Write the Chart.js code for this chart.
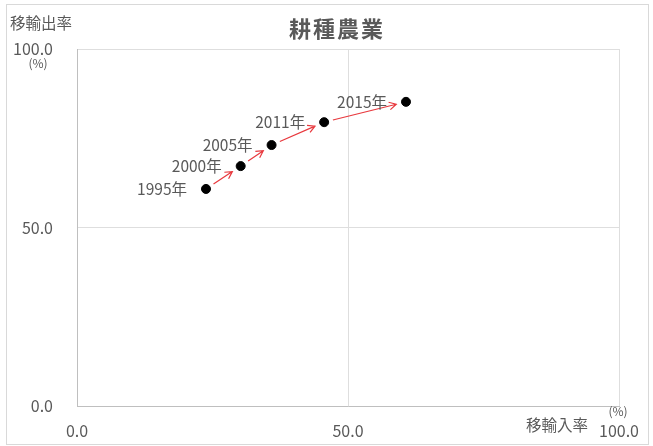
<!DOCTYPE html>
<html>
<head>
<meta charset="utf-8">
<script src="https://cdn.jsdelivr.net/npm/chart.js@4/dist/chart.umd.min.js"></script>
<style>
  html, body { margin: 0; padding: 0; background: #fff; }
  #wrap { width: 653px; height: 446px; position: relative; }
</style>
</head>
<body>
<div id="wrap"><canvas id="scatter"></canvas></div>
<script>
// 年ごとの移輸入率・移輸出率 (%)
var years = ['1995年', '2000年', '2005年', '2011年', '2015年'];
var importRate = [23.8, 30.2, 35.9, 45.6, 60.7];
var exportRate = [60.8, 67.2, 73.1, 79.5, 85.2];
var tickValues = [0, 50, 100];

var FONT = '"Noto Sans CJK JP", "Noto Sans", sans-serif';
var TEXT = '#595959';

var points = years.map(function (y, i) {
    return { x: importRate[i], y: exportRate[i] };
});

// 外枠・タイトル・軸タイトル・年ラベル・矢印
var decor = {
    id: 'decor',
    beforeDraw: function (chart) {
        var ctx = chart.ctx;
        ctx.save();
        ctx.strokeStyle = '#d9d9d9';
        ctx.lineWidth = 1;
        ctx.strokeRect(6.5, 4.5, 642, 440);
        ctx.restore();
    },
    afterDatasetsDraw: function (chart) {
        var ctx = chart.ctx;
        var meta = chart.getDatasetMeta(0);
        ctx.save();

        // arrows
        ctx.strokeStyle = '#e8383d';
        ctx.lineWidth = 1.2;
        for (var i = 0; i < meta.data.length - 1; i++) {
            var a = meta.data[i], b = meta.data[i + 1];
            var dx = b.x - a.x, dy = b.y - a.y;
            var len = Math.sqrt(dx * dx + dy * dy);
            var ux = dx / len, uy = dy / len;
            var sx = a.x + ux * 9, sy = a.y + uy * 9;
            var ex = b.x - ux * 10, ey = b.y - uy * 10;
            ctx.beginPath();
            ctx.moveTo(sx, sy);
            ctx.lineTo(ex, ey);
            var ang = Math.atan2(dy, dx);
            ctx.moveTo(ex - 8 * Math.cos(ang - 0.5), ey - 8 * Math.sin(ang - 0.5));
            ctx.lineTo(ex, ey);
            ctx.lineTo(ex - 8 * Math.cos(ang + 0.5), ey - 8 * Math.sin(ang + 0.5));
            ctx.stroke();
        }

        // year labels
        ctx.fillStyle = TEXT;
        ctx.font = '15.5px ' + FONT;
        ctx.textAlign = 'right';
        ctx.textBaseline = 'middle';
        meta.data.forEach(function (pt, i) {
            ctx.fillText(years[i], pt.x - 19, pt.y);
        });

        // title
        ctx.font = 'bold 22px ' + FONT;
        ctx.textAlign = 'center';
        ctx.letterSpacing = '2px';
        ctx.fillText('耕種農業', 337, 29);
        ctx.letterSpacing = '0px';

        // axis titles
        ctx.font = '15.5px ' + FONT;
        ctx.textAlign = 'left';
        ctx.fillText('移輸出率', 10, 23);
        ctx.font = '12px ' + FONT;
        ctx.textAlign = 'center';
        ctx.fillText('(%)', 38, 63);
        ctx.fillText('(%)', 618, 411);
        ctx.font = '15.5px ' + FONT;
        ctx.textAlign = 'right';
        ctx.fillText('移輸入率', 588, 425);
        ctx.restore();
    }
};

var config = {
    type: 'scatter',
    data: {
        datasets: [{
            data: points,
            backgroundColor: '#000000',
            borderColor: '#000000',
            pointRadius: 4.5,
            pointHoverRadius: 4.5
        }]
    },
    options: {
        responsive: true,
        maintainAspectRatio: false,
        animation: false,
        layout: { padding: { top: 49, right: 34, left: 0, bottom: 0 } },
        plugins: {
            legend: { display: false },
            tooltip: { enabled: false },
            title: { display: false }
        },
        scales: {
            x: {
                type: 'linear',
                min: 0,
                max: 100,
                afterBuildTicks: function (scale) {
                    scale.ticks = tickValues.map(function (v) { return { value: v }; });
                },
                afterFit: function (scale) {
                    scale.height = 40;
                    scale.paddingLeft = 0;
                    scale.paddingRight = 0;
                },
                grid: { color: '#dedede', drawTicks: false },
                border: { color: '#bfbfbf' },
                ticks: {
                    padding: 15,
                    color: TEXT,
                    font: { size: 16, family: FONT },
                    maxRotation: 0,
                    callback: function (v) { return v.toFixed(1); }
                }
            },
            y: {
                type: 'linear',
                min: 0,
                max: 100,
                afterBuildTicks: function (scale) {
                    scale.ticks = tickValues.map(function (v) { return { value: v }; });
                },
                afterFit: function (scale) {
                    scale.width = 77;
                    scale.paddingTop = 0;
                    scale.paddingBottom = 0;
                },
                grid: { color: '#dedede', drawTicks: false },
                border: { color: '#bfbfbf' },
                ticks: {
                    padding: 24,
                    color: TEXT,
                    font: { size: 16, family: FONT },
                    callback: function (v) { return v.toFixed(1); }
                }
            }
        }
    },
    plugins: [decor]
};

window.onload = function () {
    var ctx = document.getElementById('scatter').getContext('2d');
    window.myScatter = new Chart(ctx, config);
};
</script>
</body>
</html>
